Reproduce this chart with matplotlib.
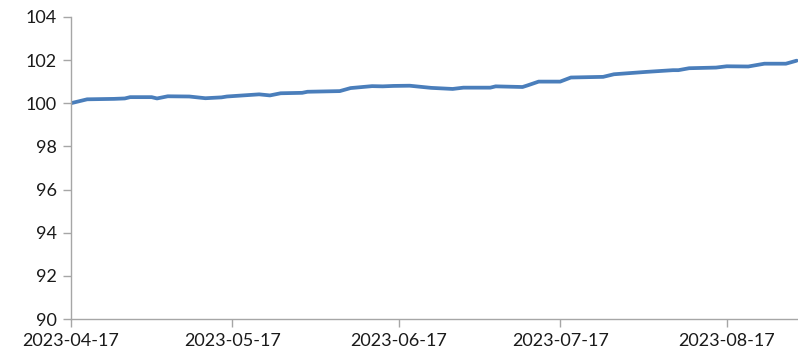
import pandas as pd
import matplotlib.pyplot as plt
import matplotlib.dates as mdates

# index level, 2023 (business-day readings)
dates = ["2023-04-17", "2023-04-19", "2023-04-20", "2023-04-25", "2023-04-27",
         "2023-04-28", "2023-05-02", "2023-05-03", "2023-05-05", "2023-05-09",
         "2023-05-12", "2023-05-15", "2023-05-16", "2023-05-22", "2023-05-24",
         "2023-05-26", "2023-05-30", "2023-05-31", "2023-06-06", "2023-06-08",
         "2023-06-12", "2023-06-14", "2023-06-16", "2023-06-19", "2023-06-21",
         "2023-06-23", "2023-06-27", "2023-06-29", "2023-07-04", "2023-07-05",
         "2023-07-10", "2023-07-11", "2023-07-13", "2023-07-17", "2023-07-19",
         "2023-07-25", "2023-07-27", "2023-08-02", "2023-08-07", "2023-08-08",
         "2023-08-10", "2023-08-15", "2023-08-17", "2023-08-21", "2023-08-24",
         "2023-08-28", "2023-08-30"]
values = [100.00, 100.12, 100.18, 100.20, 100.22,
          100.28, 100.28, 100.22, 100.32, 100.31,
          100.23, 100.27, 100.31, 100.41, 100.36,
          100.46, 100.48, 100.53, 100.56, 100.70,
          100.79, 100.78, 100.80, 100.81, 100.76,
          100.71, 100.66, 100.72, 100.72, 100.78,
          100.75, 100.83, 101.00, 101.00, 101.19,
          101.22, 101.34, 101.45, 101.53, 101.53,
          101.62, 101.65, 101.71, 101.70, 101.83,
          101.83, 101.97]
x_ticks = ["2023-04-17", "2023-05-17", "2023-06-17", "2023-07-17", "2023-08-17"]
y_ticks = [90, 92, 94, 96, 98, 100, 102, 104]

plt.rcParams['font.family'] = ['Lato', 'DejaVu Sans']

dt = pd.to_datetime(dates)

fig = plt.figure(figsize=(7.98, 3.51), dpi=100)
ax = fig.add_axes([0.089, 0.091, 0.911, 0.861])

ax.plot(dt, values, color='#4a7ebb', linewidth=2.7, solid_capstyle='round',
        solid_joinstyle='round')

ax.set_ylim(90, 104)
ax.set_yticks(y_ticks)
ax.set_xlim(pd.Timestamp("2023-04-17"), pd.Timestamp("2023-08-30 06:00"))
ax.set_xticks(pd.to_datetime(x_ticks))
ax.xaxis.set_major_formatter(mdates.DateFormatter('%Y-%m-%d'))

for side in ['top', 'right']:
    ax.spines[side].set_visible(False)
for side in ['left', 'bottom']:
    ax.spines[side].set_color('#a6a6a6')
    ax.spines[side].set_linewidth(1.0)

ax.tick_params(axis='both', colors='#a6a6a6', labelcolor='#1a1a1a',
               labelsize=13, length=6, width=1.0)
ax.tick_params(axis='y', pad=4)
ax.tick_params(axis='x', pad=4)

fig.savefig('out.png', dpi=100)
